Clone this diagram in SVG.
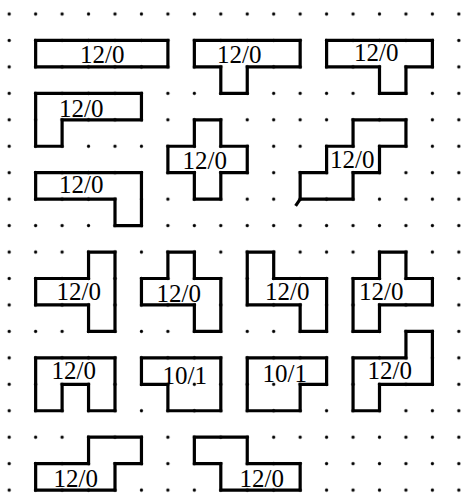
<svg xmlns="http://www.w3.org/2000/svg" width="461" height="494" viewBox="0 0 461 494">
<defs>
<pattern id="dots" patternUnits="userSpaceOnUse" x="-4.025" y="0.775" width="26.45" height="26.45">
<circle cx="13.225" cy="13.225" r="1.6" fill="#000"/>
</pattern>
<style>
.s{fill:none;stroke:#000;stroke-width:3.2;stroke-linejoin:miter;stroke-linecap:square}
.t{font-family:"Liberation Serif","Times New Roman",serif;font-size:25px;fill:#000}
</style>
</defs>
<rect width="461" height="494" fill="#fff"/>
<rect width="461" height="494" fill="url(#dots)"/>
<g id="connectors"/>
<g id="shape1"><polygon class="s" points="35.65,40.45 167.9,40.45 167.9,66.9 35.65,66.9"/><text class="t" x="80" y="63">12/0</text></g>
<g id="shape2"><polygon class="s" points="194.35,40.45 300.15,40.45 300.15,66.9 247.25,66.9 247.25,93.35 220.8,93.35 220.8,66.9 194.35,66.9"/><text class="t" x="217" y="63">12/0</text></g>
<g id="shape3"><polygon class="s" points="326.6,40.45 432.4,40.45 432.4,66.9 405.95,66.9 405.95,93.35 379.5,93.35 379.5,66.9 326.6,66.9"/><text class="t" x="354" y="61">12/0</text></g>
<g id="shape4"><polygon class="s" points="35.65,93.35 141.45,93.35 141.45,119.8 62.1,119.8 62.1,146.25 35.65,146.25"/><text class="t" x="59" y="117">12/0</text></g>
<g id="shape5"><polygon class="s" points="35.65,172.7 141.45,172.7 141.45,225.6 115,225.6 115,199.15 35.65,199.15"/><text class="t" x="59" y="193">12/0</text></g>
<g id="shape6"><polygon class="s" points="194.35,119.8 220.8,119.8 220.8,146.25 247.25,146.25 247.25,172.7 220.8,172.7 220.8,199.15 194.35,199.15 194.35,172.7 167.9,172.7 167.9,146.25 194.35,146.25"/><text class="t" x="182.5" y="169">12/0</text></g>
<g id="shape7"><polygon class="s" points="353.05,119.8 405.95,119.8 405.95,146.25 379.5,146.25 379.5,172.7 353.05,172.7 353.05,199.15 300.15,199.15 300.15,172.7 326.6,172.7 326.6,146.25 353.05,146.25"/><path class="s" d="M300.15,199.15 L296.5,204.5"/><text class="t" x="330" y="168">12/0</text></g>
<g id="shape8"><polygon class="s" points="88.55,252.05 115,252.05 115,331.4 88.55,331.4 88.55,304.95 35.65,304.95 35.65,278.5 88.55,278.5"/><text class="t" x="56.5" y="300">12/0</text></g>
<g id="shape9"><polygon class="s" points="167.9,252.05 194.35,252.05 194.35,278.5 220.8,278.5 220.8,331.4 194.35,331.4 194.35,304.95 141.45,304.95 141.45,278.5 167.9,278.5"/><text class="t" x="156.5" y="301.5">12/0</text></g>
<g id="shape10"><polygon class="s" points="247.25,252.05 273.7,252.05 273.7,278.5 326.6,278.5 326.6,331.4 300.15,331.4 300.15,304.95 247.25,304.95"/><text class="t" x="265" y="300">12/0</text></g>
<g id="shape11"><polygon class="s" points="379.5,252.05 405.95,252.05 405.95,278.5 432.4,278.5 432.4,304.95 379.5,304.95 379.5,331.4 353.05,331.4 353.05,278.5 379.5,278.5"/><text class="t" x="359" y="300">12/0</text></g>
<g id="shape12"><polygon class="s" points="35.65,357.85 115,357.85 115,410.75 88.55,410.75 88.55,384.3 62.1,384.3 62.1,410.75 35.65,410.75"/><text class="t" x="51.5" y="379">12/0</text></g>
<g id="shape13"><polygon class="s" points="141.45,357.85 220.8,357.85 220.8,410.75 167.9,410.75 167.9,384.3 141.45,384.3"/><text class="t" x="162.5" y="384">10/1</text></g>
<g id="shape14"><polygon class="s" points="247.25,357.85 326.6,357.85 326.6,384.3 300.15,384.3 300.15,410.75 247.25,410.75"/><text class="t" x="262.5" y="381.5">10/1</text></g>
<g id="shape15"><polygon class="s" points="405.95,331.4 432.4,331.4 432.4,384.3 379.5,384.3 379.5,410.75 353.05,410.75 353.05,357.85 405.95,357.85"/><text class="t" x="367.5" y="379">12/0</text></g>
<g id="shape16"><polygon class="s" points="88.55,437.2 141.45,437.2 141.45,463.65 115,463.65 115,490.1 35.65,490.1 35.65,463.65 88.55,463.65"/><text class="t" x="53.5" y="486.5">12/0</text></g>
<g id="shape17"><polygon class="s" points="194.35,437.2 247.25,437.2 247.25,463.65 300.15,463.65 300.15,490.1 220.8,490.1 220.8,463.65 194.35,463.65"/><text class="t" x="239.5" y="486.5">12/0</text></g>
</svg>
